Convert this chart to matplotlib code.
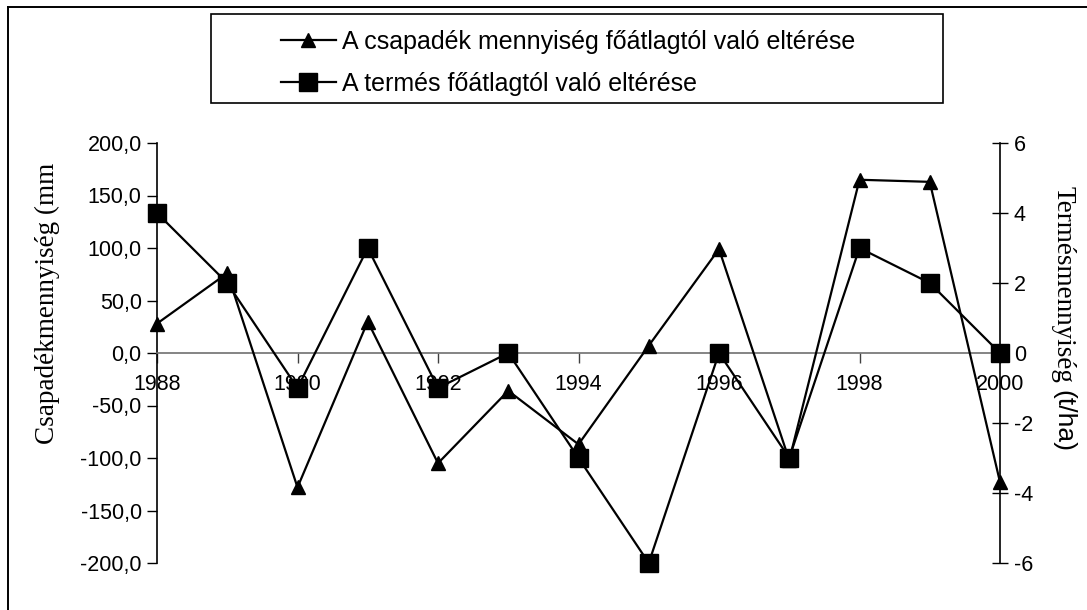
import matplotlib
matplotlib.use("Agg")
import matplotlib.pyplot as plt
from matplotlib.lines import Line2D
from matplotlib.patches import Rectangle

# data
years = [1988, 1989, 1990, 1991, 1992, 1993, 1994, 1995, 1996, 1997, 1998, 1999, 2000]
csapadek = [28, 76, -128, 30, -105, -36, -87, 7, 99, -102, 165, 163, -123]   # mm
termes = [4, 2, -1, 3, -1, 0, -3, -6, 0, -3, 3, 2, 0]                       # t/ha
left_ticks = [-200, -150, -100, -50, 0, 50, 100, 150, 200]
right_ticks = [-6, -4, -2, 0, 2, 4, 6]
x_ticks = [1988, 1990, 1992, 1994, 1996, 1998, 2000]

sans = "Liberation Sans"
serif = "Liberation Serif"
plt.rcParams['font.family'] = [sans, 'DejaVu Sans']

W, H = 1087, 610
fig = plt.figure(figsize=(W / 100, H / 100), dpi=100)
fig.patch.set_facecolor("white")

ax = fig.add_axes([157 / W, (H - 563) / H, 843 / W, 420 / H])
ax2 = ax.twinx()

ax.plot(years, csapadek, color="black", lw=1.6, marker="^", markersize=10,
        clip_on=False, zorder=3)
ax2.plot(years, termes, color="black", lw=1.6, marker="s", markersize=13,
         clip_on=False, zorder=3)

ax.set_xlim(1988, 2000)
ax.set_ylim(-200, 200)
ax2.set_ylim(-6, 6)

ax.set_xticks(x_ticks)
ax.set_xticklabels([str(y) for y in x_ticks])
ax.set_yticks(left_ticks)
ax.set_yticklabels([("%.1f" % v).replace(".", ",") for v in left_ticks])
ax2.set_yticks(right_ticks)
ax2.set_yticklabels([str(v) for v in right_ticks])

for s in ["top", "right"]:
    ax.spines[s].set_visible(False)
for s in ["top", "bottom", "left"]:
    ax2.spines[s].set_visible(False)
ax.spines["bottom"].set_position(("data", 0))
ax.spines["bottom"].set_color("#707070")
ax.spines["bottom"].set_linewidth(1.2)
ax.spines["left"].set_linewidth(1.2)
ax2.spines["right"].set_linewidth(1.2)

ax.tick_params(axis="x", direction="out", length=7, width=1, color="#404040",
               labelsize=15.5, pad=8)
ax.tick_params(axis="y", direction="out", length=7, width=1, labelsize=15.5, pad=4)
ax2.tick_params(axis="y", direction="inout", length=12, width=1, labelsize=15.5, pad=4)
ax.patch.set_visible(False)

# axis titles
fig.text(47 / W, 1 - 303 / H, "Csapadékmennyiség (mm", family=serif,
         fontsize=19.5, rotation=90, ha="center", va="center")
fig.text(1063 / W, 1 - 284 / H, "Termésmennyiség", family=serif,
         fontsize=19.5, rotation=270, ha="center", va="center")
fig.text(1063 / W, 1 - 421 / H, "(t/ha)", family=sans,
         fontsize=19, rotation=270, ha="center", va="center")

# legend box
fig.patches.append(Rectangle((211 / W, 1 - 103 / H), 732 / W, 89 / H,
                             transform=fig.transFigure, fill=False,
                             edgecolor="black", lw=1.2))
handles = [Line2D([], [], color="black", lw=1.6, marker="^", markersize=10),
           Line2D([], [], color="black", lw=1.6, marker="s", markersize=13)]
labels = ["A csapadék mennyiség főátlagtól való eltérése",
          "A termés főátlagtól való eltérése"]
fig.legend(handles, labels, loc="upper left", bbox_to_anchor=(263 / W, 1 - 12 / H),
           frameon=False, fontsize=18, handlelength=2.2, handletextpad=0.25,
           labelspacing=0.73, borderpad=0.2)

# outer frame (top and left edges visible)
fig.add_artist(Line2D([8 / W, 1], [1 - 7 / H, 1 - 7 / H], transform=fig.transFigure,
                      color="black", lw=1.4))
fig.add_artist(Line2D([8 / W, 8 / W], [0, 1 - 7 / H], transform=fig.transFigure,
                      color="black", lw=1.4))

fig.savefig("out.png", dpi=100, facecolor="white")
